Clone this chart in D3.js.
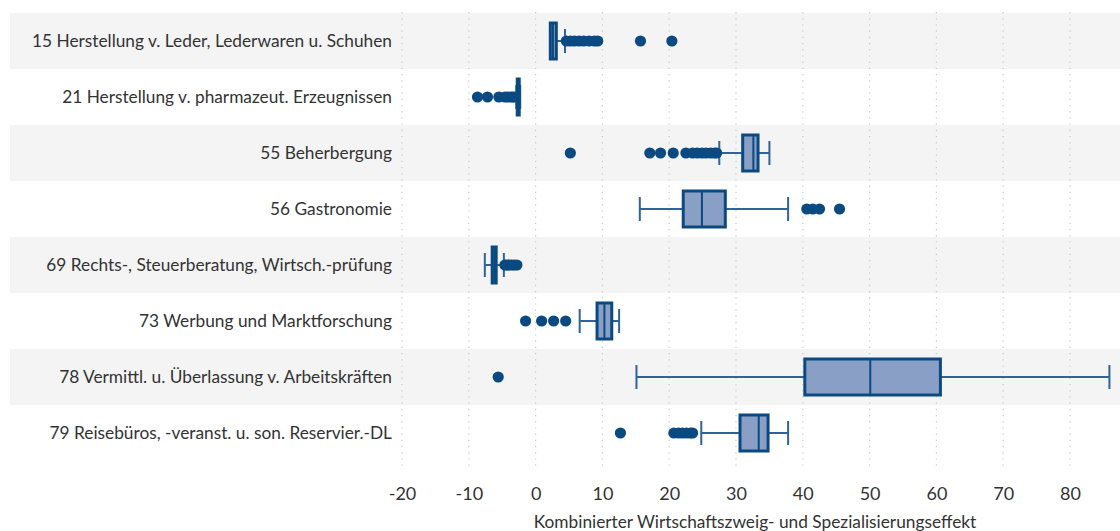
<!DOCTYPE html>
<html>
<head>
<meta charset="utf-8">
<script src="https://cdn.jsdelivr.net/npm/d3@7"></script>
<style>
  body { margin: 0; background: #fff; }
  svg { display: block; font-family: Lato, "Noto Sans", sans-serif; }
</style>
</head>
<body>
<div id="chart"></div>
<script>
// Branches (top to bottom)
var categories = [
  "15 Herstellung v. Leder, Lederwaren u. Schuhen",
  "21 Herstellung v. pharmazeut. Erzeugnissen",
  "55 Beherbergung",
  "56 Gastronomie",
  "69 Rechts-, Steuerberatung, Wirtsch.-prüfung",
  "73 Werbung und Marktforschung",
  "78 Vermittl. u. Überlassung v. Arbeitskräften",
  "79 Reisebüros, -veranst. u. son. Reservier.-DL"
]

// Box statistics
var whiskerLow  = [2.2, -2.9, 27.5, 15.6, -7.6,  6.6, 15.1, 24.8]
var q1          = [2.2, -2.75, 31.0, 22.1, -6.5,  9.2, 40.3, 30.6]
var median      = [2.6, -2.6, 32.6, 24.9, -6.2, 10.3, 50.1, 33.4]
var q3          = [3.1, -2.45, 33.3, 28.4, -5.9, 11.4, 60.6, 34.8]
var whiskerHigh = [4.4, -2.3, 35.0, 37.8, -4.75, 12.5, 85.9, 37.8]

// Outliers per branch
var outliers = [
  [4.6, 5.2, 5.8, 6.5, 7.2, 8.0, 8.8, 9.3, 15.7, 20.4],
  [-8.7, -7.2, -5.5, -4.6, -4.2, -3.7, -3.4, -3.1],
  [5.2, 17.1, 18.7, 20.6, 22.5, 23.5, 24.2, 24.9, 25.5, 26.2, 26.8, 27.1],
  [40.6, 41.5, 42.5, 45.5],
  [-4.6, -4.3, -4.0, -3.6, -3.2, -2.8],
  [-1.5, 0.9, 2.7, 4.5],
  [-5.6],
  [12.7, 20.7, 21.4, 22.0, 22.6, 23.2, 23.5]
]

var xTicks = [-20, -10, 0, 10, 20, 30, 40, 50, 60, 70, 80]
var xLabel = "Kombinierter Wirtschaftszweig- und Spezialisierungseffekt"

// Global parameters
var width = 1120
var height = 531
var colors = {band: "#f4f4f4", grid: "#c8c8c8", box: "#0b4a80", fill: "#8a9fc5", whisker: "#2f6399", text: "#333"}

var rows = categories.map((c, i) => ({
  name: c, lo: whiskerLow[i], q1: q1[i], med: median[i], q3: q3[i], hi: whiskerHigh[i], out: outliers[i]
}))

const svg = d3.select("#chart").append("svg")
              .attr("width", width)
              .attr("height", height)

var xScale = d3.scaleLinear().domain([-20, 80]).range([402, 1070])
var yScale = d3.scaleBand().domain(categories).range([13, 461]).padding(0)
var bw = yScale.bandwidth()
var boxH = 36
var capH = 24

// Alternating grey bands
svg.selectAll(".band").data(rows.filter((d, i) => i % 2 == 0)).enter()
   .append("rect")
   .attr("x", 10).attr("width", width - 10)
   .attr("y", (d) => yScale(d.name)).attr("height", bw)
   .attr("fill", colors.band)

// Dotted grid lines
svg.selectAll(".grid").data(xTicks).enter()
   .append("line")
   .attr("x1", (d) => xScale(d)).attr("x2", (d) => xScale(d))
   .attr("y1", 12).attr("y2", 467)
   .attr("stroke", colors.grid)
   .attr("stroke-width", 1.2)
   .style("stroke-dasharray", ("1.2, 5"))

// Category labels
svg.selectAll(".cat").data(categories).enter()
   .append("text")
   .attr("x", 392)
   .attr("y", (d) => yScale(d) + bw / 2 + 6)
   .attr("text-anchor", "end")
   .attr("font-size", 17.3)
   .attr("fill", colors.text)
   .text((d) => d)

// x axis (labels only, plain hyphen minus like the original)
var xAxis = d3.axisBottom(xScale).tickValues(xTicks).tickSize(0).tickPadding(0)
              .tickFormat((d) => String(d))
var gx = svg.append("g").attr("transform", "translate(0, 487)").call(xAxis)
gx.select(".domain").remove()
gx.selectAll("text").attr("font-size", 18).attr("fill", colors.text)
  .attr("font-family", "Lato, 'Noto Sans', sans-serif")

svg.append("text")
   .attr("x", 755).attr("y", 528)
   .attr("text-anchor", "middle")
   .attr("font-size", 17.3)
   .attr("fill", colors.text)
   .text(xLabel)

var g = svg.selectAll(".boxrow").data(rows).enter()
           .append("g")
           .attr("transform", (d) => "translate(0," + (yScale(d.name) + bw / 2) + ")")

// Whiskers
g.append("line").attr("x1", (d) => xScale(d.lo)).attr("x2", (d) => xScale(d.q1))
 .attr("y1", 0).attr("y2", 0).attr("stroke", colors.whisker).attr("stroke-width", 2)
g.append("line").attr("x1", (d) => xScale(d.q3)).attr("x2", (d) => xScale(d.hi))
 .attr("y1", 0).attr("y2", 0).attr("stroke", colors.whisker).attr("stroke-width", 2)
g.append("line").attr("x1", (d) => xScale(d.lo)).attr("x2", (d) => xScale(d.lo))
 .attr("y1", -capH / 2).attr("y2", capH / 2).attr("stroke", colors.whisker).attr("stroke-width", 2)
g.append("line").attr("x1", (d) => xScale(d.hi)).attr("x2", (d) => xScale(d.hi))
 .attr("y1", -capH / 2).attr("y2", capH / 2).attr("stroke", colors.whisker).attr("stroke-width", 2)

// Box and median
g.append("rect")
 .attr("x", (d) => xScale(d.q1)).attr("width", (d) => xScale(d.q3) - xScale(d.q1))
 .attr("y", -boxH / 2).attr("height", boxH)
 .attr("fill", colors.fill).attr("stroke", colors.box).attr("stroke-width", 3)
g.append("line").attr("x1", (d) => xScale(d.med)).attr("x2", (d) => xScale(d.med))
 .attr("y1", -boxH / 2).attr("y2", boxH / 2).attr("stroke", colors.box).attr("stroke-width", 2)

// Outlier dots
g.selectAll(".out").data((d) => d.out).enter()
 .append("circle")
 .attr("cx", (d) => xScale(d)).attr("cy", 0).attr("r", 5.6)
 .attr("fill", colors.box)
</script>
</body>
</html>
